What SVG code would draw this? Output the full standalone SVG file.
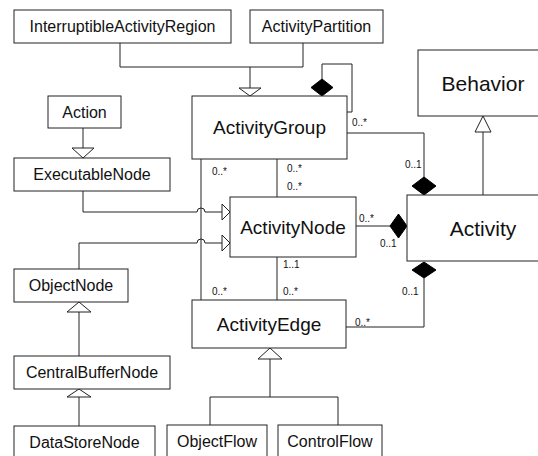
<svg xmlns="http://www.w3.org/2000/svg" width="538" height="456" viewBox="0 0 538 456">
<style>
.box{fill:#fff;stroke:#222;stroke-width:1}
.ln{fill:none;stroke:#222;stroke-width:1}
.tri{fill:#fff;stroke:#222;stroke-width:1}
.dia{fill:#000;stroke:#000;stroke-width:1}
text{font-family:"Liberation Sans",Arial,sans-serif;fill:#111;text-anchor:middle}
.s{font-size:16px}
.m{font-size:19px}
.l{font-size:21px}
.mult{font-size:10px;text-anchor:start}
</style>
<rect width="538" height="456" fill="#fff"/>
<g id="connectors">
  <path class="ln" d="M120,43 V67 H303 V43 M250,67 V88"/>
  <polygon class="tri" points="239,88 261,88 250,96"/>
  <path class="ln" d="M322,79 V64 H352 V112 H347"/>
  <polygon class="dia" points="322,96 333,87.5 322,79 311,87.5"/>
  <path class="ln" d="M347,133 H424 V177"/>
  <polygon class="dia" points="424,195 436,186 424,177 412,186"/>
  <path class="ln" d="M483,195 V132"/>
  <polygon class="tri" points="475,132 491,132 483,116"/>
  <path class="ln" d="M83,128 V148"/>
  <polygon class="tri" points="72,148 94,148 83,158"/>
  <path class="ln" d="M83,191 V212 H197 A4,4 0 0 1 205,212 H222"/>
  <polygon class="tri" points="222,204 222,220 230,212"/>
  <path class="ln" d="M79,269 V243 H197 A4,4 0 0 1 205,243 H222"/>
  <polygon class="tri" points="222,235 222,251 230,243"/>
  <path class="ln" d="M201,159 V300"/>
  <path class="ln" d="M277,159 V197"/>
  <path class="ln" d="M277,257 V300"/>
  <path class="ln" d="M356,226 H390"/>
  <polygon class="dia" points="390,226 398.5,214 407,226 398.5,238"/>
  <polygon class="dia" points="424,262 436,270 424,278 412,270"/>
  <path class="ln" d="M424,278 V327 H346"/>
  <polygon class="tri" points="258,359 282,359 270,348"/>
  <path class="ln" d="M270,359 V397 M210,397 H338 M210,397 V425 M338,397 V425"/>
  <polygon class="tri" points="67,312 91,312 79,302"/>
  <path class="ln" d="M79,312 V356"/>
  <polygon class="tri" points="67,397 91,397 79,389"/>
  <path class="ln" d="M79,397 V426"/>
  <text class="mult" x="352" y="126">0..*</text>
  <text class="mult" x="405" y="168">0..1</text>
  <text class="mult" x="212" y="175">0..*</text>
  <text class="mult" x="287" y="172">0..*</text>
  <text class="mult" x="287" y="190">0..*</text>
  <text class="mult" x="359" y="222">0..*</text>
  <text class="mult" x="380" y="247">0..1</text>
  <text class="mult" x="283" y="268">1..1</text>
  <text class="mult" x="212" y="295">0..*</text>
  <text class="mult" x="283" y="295">0..*</text>
  <text class="mult" x="402" y="295">0..1</text>
  <text class="mult" x="355" y="326">0..*</text>
</g>
<g id="InterruptibleActivityRegion"><rect class="box" x="14" y="10" width="217" height="33"/><text class="s" x="122.5" y="32">InterruptibleActivityRegion</text></g>
<g id="ActivityPartition"><rect class="box" x="250" y="10" width="133" height="33"/><text class="s" x="316.5" y="32">ActivityPartition</text></g>
<g id="Action"><rect class="box" x="48" y="96" width="73" height="32"/><text class="s" x="84.5" y="117.5">Action</text></g>
<g id="ExecutableNode"><rect class="box" x="14" y="158" width="156" height="33"/><text class="s" x="92" y="180">ExecutableNode</text></g>
<g id="ActivityGroup"><rect class="box" x="192" y="96" width="155" height="63"/><text class="m" x="269.5" y="134">ActivityGroup</text></g>
<g id="Behavior"><rect class="box" x="418" y="50" width="142" height="66"/><text class="l" x="483" y="90.5">Behavior</text></g>
<g id="ActivityNode"><rect class="box" x="230" y="197" width="126" height="60"/><text class="m" x="293" y="233.5">ActivityNode</text></g>
<g id="Activity"><rect class="box" x="407" y="195" width="153" height="66"/><text class="l" x="483" y="235.5">Activity</text></g>
<g id="ObjectNode"><rect class="box" x="14" y="269" width="114" height="33"/><text class="s" x="71" y="291">ObjectNode</text></g>
<g id="ActivityEdge"><rect class="box" x="192" y="300" width="154" height="48"/><text class="m" x="269" y="331">ActivityEdge</text></g>
<g id="CentralBufferNode"><rect class="box" x="14" y="356" width="156" height="33"/><text class="s" x="92" y="378">CentralBufferNode</text></g>
<g id="DataStoreNode"><rect class="box" x="14" y="426" width="141" height="33"/><text class="s" x="84.5" y="448">DataStoreNode</text></g>
<g id="ObjectFlow"><rect class="box" x="167" y="425" width="100" height="33"/><text class="s" x="217" y="447">ObjectFlow</text></g>
<g id="ControlFlow"><rect class="box" x="278" y="425" width="104" height="33"/><text class="s" x="330" y="447">ControlFlow</text></g>
</svg>
